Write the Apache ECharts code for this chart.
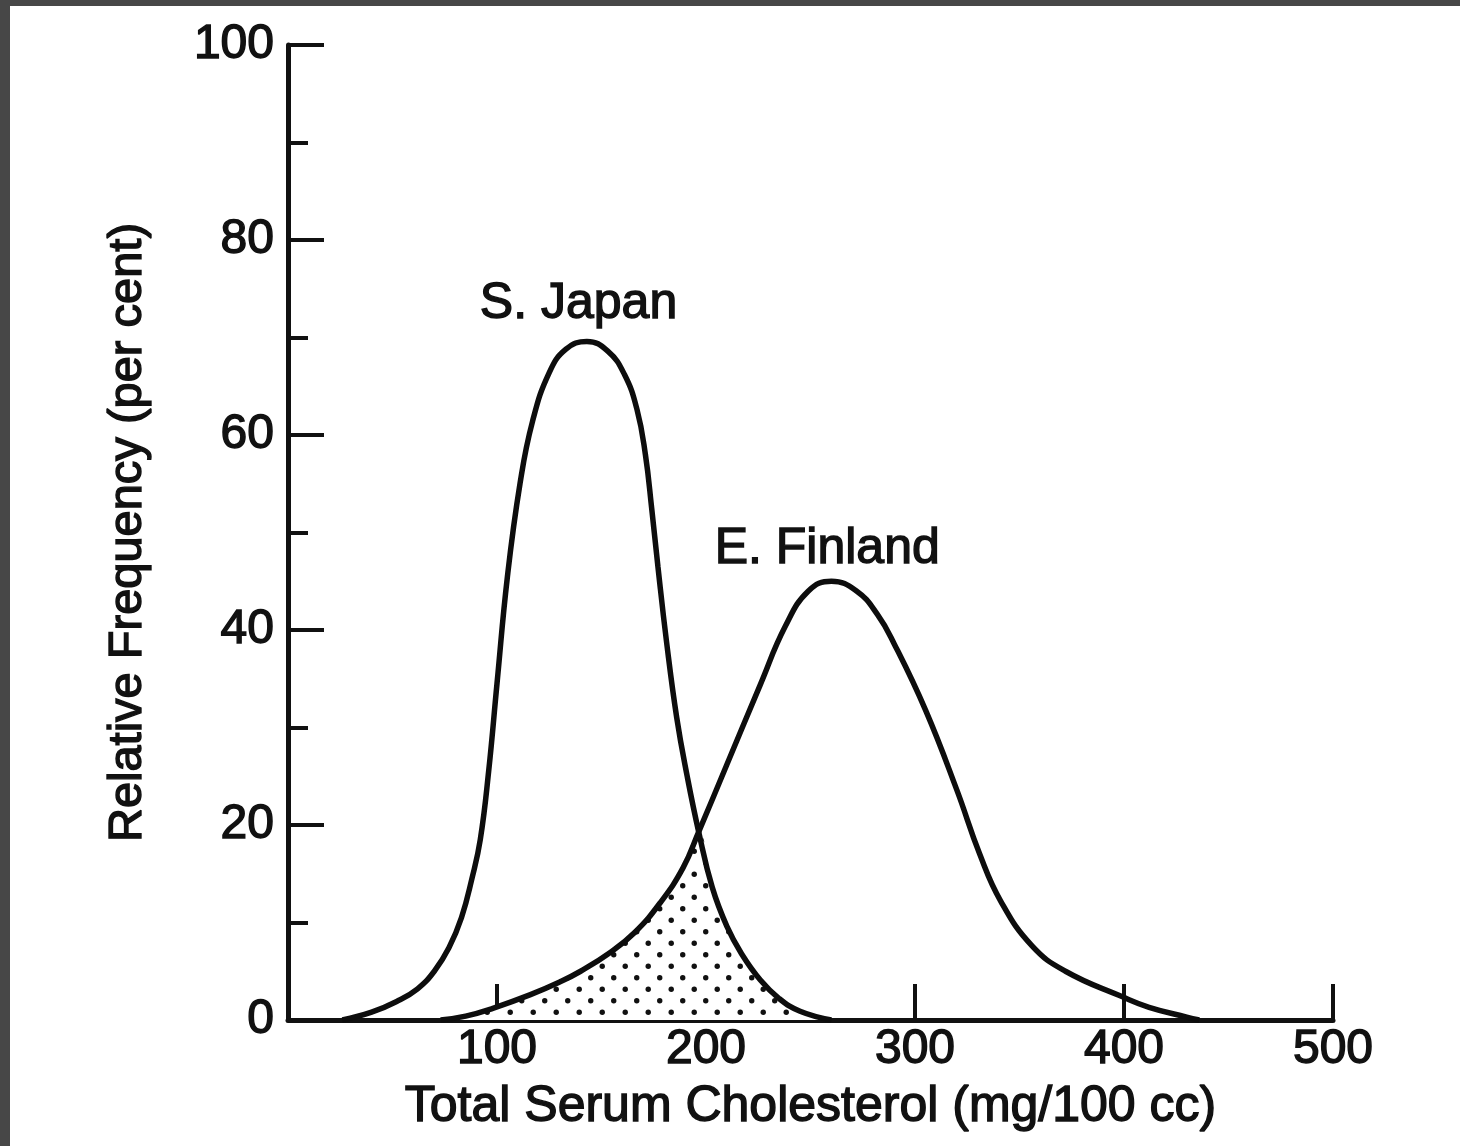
<!DOCTYPE html>
<html>
<head>
<meta charset="utf-8">
<script src="https://cdn.jsdelivr.net/npm/echarts@6/dist/echarts.min.js"></script>
<style>
  html, body { margin: 0; padding: 0; background: #474747; }
  #frame { position: absolute; left: 0; top: 0; width: 1460px; height: 1146px; background: #474747; }
  #chart { position: absolute; left: 10px; top: 6px; width: 1450px; height: 1140px; background: #ffffff; }
</style>
</head>
<body>
<div id="frame"><div id="chart"></div></div>
<script>
// ---- data ----
const xTicks = [0, 100, 200, 300, 400, 500];
const yTicks = [0, 20, 40, 60, 80, 100];
const seriesNames = ['S. Japan', 'E. Finland'];
const japan = [
  [26, 0], [40, 0.8], [52, 1.9], [62, 3.2], [70, 5], [77, 7.4], [83, 10.5],
  [88, 14.5], [92, 18.5], [96, 25.5], [100, 34.5], [105, 45.5], [111, 55],
  [117, 61.4], [125, 66.4], [133, 68.8], [143, 69.6], [153, 68.6], [161, 66.2],
  [167, 62.6], [171, 58], [174, 52.5], [177, 46.5], [181, 39], [186, 31],
  [191, 25], [196.5, 19.3], [203, 13.6], [210, 9.6], [217, 6.8], [226, 4.1],
  [235, 2.2], [245, 0.9], [260, 0]
];
const finland = [
  [73, 0], [85, 0.4], [98, 1.2], [116, 2.6], [130, 3.9], [140, 5.0], [154, 6.9],
  [166, 9.0], [178, 12.0], [189, 15.6], [196.5, 19.3], [210, 26.2], [226, 34.4],
  [238, 40.4], [249, 44], [260, 45], [272, 44], [282, 41.6], [290, 38.6],
  [305, 31.8], [320, 23.6], [331, 17], [341, 12.2], [356, 7.6], [372, 5.0],
  [399, 2.4], [412, 1.3], [430, 0.3], [436, 0]
];
const crossingX = 196.5;
// overlap region: under Finland up to the crossing, then under Japan
const overlap = finland.filter(p => p[0] <= crossingX).concat(japan.filter(p => p[0] > crossingX));

// stipple pattern
const TW = 23;
const pat = document.createElement('canvas');
pat.width = TW; pat.height = TW;
const pc = pat.getContext('2d');
pc.fillStyle = '#ffffff';
pc.fillRect(0, 0, TW, TW);
pc.fillStyle = '#111111';
[[TW / 4, TW / 4], [3 * TW / 4, 3 * TW / 4]].forEach(d => { pc.beginPath(); pc.arc(d[0], d[1], 2.7, 0, Math.PI * 2); pc.fill(); });

const FONT = '"Liberation Sans", Arial, Helvetica, sans-serif';
const txt = (size) => ({ fontFamily: FONT, fontSize: size, color: '#111', textBorderColor: '#111', textBorderWidth: 1.4 });
const chart = echarts.init(document.getElementById('chart'));
chart.setOption({
  backgroundColor: '#ffffff',
  animation: false,
  grid: { left: 278, right: 127, top: 39, bottom: 126 },
  xAxis: {
    type: 'value', min: 0, max: 500, interval: 100,
    name: 'Total Serum Cholesterol (mg/100 cc)',
    nameLocation: 'middle', nameGap: 62,
    nameTextStyle: txt(50),
    axisLine: { show: true, lineStyle: { color: '#111', width: 5 } },
    axisTick: { show: true, inside: true, length: 36, lineStyle: { color: '#111', width: 4 } },
    axisLabel: Object.assign(txt(48), { margin: 6, formatter: v => (v === 0 ? '' : String(v)) }),
    splitLine: { show: false }
  },
  yAxis: {
    type: 'value', min: 0, max: 100, interval: 20,
    name: 'Relative Frequency (per cent)',
    nameLocation: 'middle', nameGap: 136,
    nameTextStyle: txt(47),
    axisLine: { show: true, lineStyle: { color: '#111', width: 5 } },
    axisTick: { show: true, inside: true, length: 36, lineStyle: { color: '#111', width: 4 } },
    minorTick: { show: true, splitNumber: 2, length: 20, lineStyle: { color: '#111', width: 4 } },
    axisLabel: Object.assign(txt(48), { margin: 14 }),
    splitLine: { show: false }
  },
  series: [
    {
      name: 'overlap', type: 'line', data: overlap, smooth: 0.45, symbol: 'none',
      lineStyle: { width: 0, opacity: 0 },
      areaStyle: { color: { image: pat, repeat: 'repeat' }, opacity: 1 },
      z: 1, silent: true
    },
    {
      name: seriesNames[0], type: 'line', data: japan, smooth: 0.45, symbol: 'none',
      lineStyle: { color: '#0d0d0d', width: 5.5 }, z: 3,
      markPoint: {
        symbol: 'circle', symbolSize: 0,
        label: Object.assign(txt(50), { show: true, formatter: seriesNames[0] }),
        data: [{ coord: [139, 73.4] }]
      }
    },
    {
      name: seriesNames[1], type: 'line', data: finland, smooth: 0.45, symbol: 'none',
      lineStyle: { color: '#0d0d0d', width: 5.5 }, z: 3,
      markPoint: {
        symbol: 'circle', symbolSize: 0,
        label: Object.assign(txt(50), { show: true, formatter: seriesNames[1] }),
        data: [{ coord: [258, 48.3] }]
      }
    }
  ]
});
</script>
</body>
</html>
